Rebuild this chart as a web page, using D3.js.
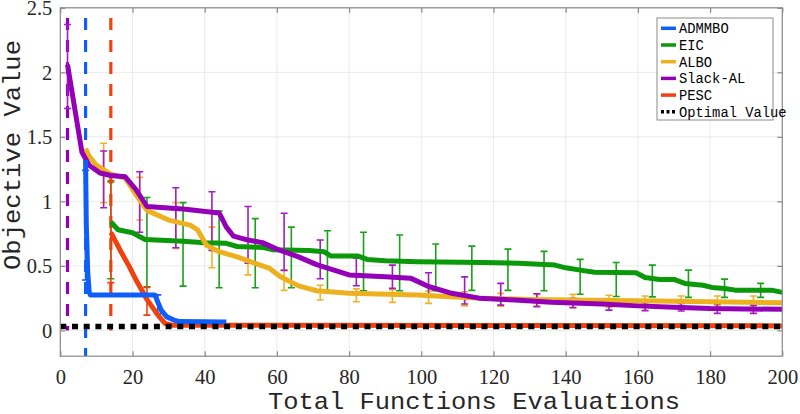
<!DOCTYPE html>
<html><head><meta charset="utf-8">
<script src="https://cdn.jsdelivr.net/npm/d3@7"></script>
<style>body{margin:0;background:#fff}svg{display:block}
.serif{font-family:"Liberation Serif","Times New Roman",Times,serif}
.mono{font-family:"Liberation Mono","Courier New",Courier,monospace}
</style>
</head><body><svg id="c" width="800" height="414"></svg>
<script>
const xTicks=[0,20,40,60,80,100,120,140,160,180,200];
const yTicks=[0,0.5,1,1.5,2,2.5];
const legendNames=["ADMMBO","EIC","ALBO","Slack-AL","PESC","Optimal Value"];
const colors={ADMMBO:"#0f5ef7",EIC:"#0b990b",ALBO:"#edb120",Slack:"#9300b8",PESC:"#f0410e"};

const admmX=[7,7.2,7.4,7.6,8,8.3,26.2,27,28,29.5,31.5,33,46];
const admmY=[1.32,0.82,0.64,0.45,0.3,0.275,0.275,0.22,0.155,0.105,0.08,0.068,0.065];
const eicX=[14,16,20,23.5,34,40,46,49,56,59,69,73,75,82.5,85,90,99,117,127,134,137,140,144,148,159.5,162,166,170,173,178,180.5,184,187,197,200];
const eicY=[0.84,0.78,0.757,0.705,0.69,0.68,0.675,0.65,0.643,0.625,0.62,0.61,0.576,0.576,0.55,0.54,0.532,0.527,0.52,0.51,0.506,0.485,0.467,0.45,0.447,0.41,0.395,0.395,0.364,0.35,0.333,0.325,0.312,0.312,0.295];
const alboX=[7,8,10,14,18,21,24,30,36,38,40.5,44,49,54,58,61,66,71,80,99,108,117,130,160,200];
const alboY=[1.41,1.35,1.28,1.21,1.18,1.05,0.93,0.855,0.816,0.78,0.66,0.61,0.57,0.52,0.48,0.415,0.345,0.307,0.287,0.274,0.26,0.25,0.24,0.23,0.214];
const slackX=[2,6,8,11,14,18,21,24,34,44,46,48,52,56,60,66,71,80,90,97,102,108,112,116,126,136,150,160,170,180,200];
const slackY=[2.06,1.38,1.28,1.22,1.2,1.19,1.09,0.96,0.94,0.91,0.8,0.73,0.7,0.68,0.63,0.57,0.51,0.43,0.415,0.405,0.34,0.29,0.27,0.25,0.235,0.218,0.204,0.19,0.18,0.17,0.163];
const pescX=[14,17,19,21,24,27,29,31,200];
const pescY=[0.76,0.6,0.5,0.39,0.24,0.12,0.055,0.04,0.035];
const optimalValue=0.03;

// error bars: x, low, high
const admmBarX=[7,17,27,37];
const admmBarLo=[0.39,0.27,0.13,0.06];
const admmBarHi=[1.24,0.28,0.275,0.07];
const eicBarX=[14,24,34,44,54,64,74,84,94,104,114,124,134,144,154,164,174,184,194];
const eicBarLo=[0.4,0.338,0.343,0.33,0.33,0.33,0.307,0.307,0.307,0.307,0.31,0.31,0.307,0.28,0.263,0.26,0.256,0.256,0.256];
const eicBarHi=[1.15,1.03,0.99,0.925,0.866,0.8,0.772,0.76,0.739,0.669,0.653,0.63,0.612,0.55,0.526,0.506,0.467,0.397,0.364];
const alboBarX=[12,22,32,42,52,62,72,82,92,102,112,122,132,142,152,162,172,182,192];
const alboBarLo=[0.99,0.855,0.636,0.485,0.43,0.31,0.235,0.222,0.217,0.209,0.19,0.188,0.19,0.178,0.18,0.157,0.19,0.19,0.19];
const alboBarHi=[1.45,1.186,0.99,0.8,0.524,0.467,0.35,0.322,0.315,0.305,0.3,0.287,0.279,0.279,0.272,0.266,0.266,0.266,0.266];
const slackBarX=[2,12,22,32,42,52,62,72,82,92,102,112,122,132,142,152,162,172,182,192];
const slackBarLo=[1.72,0.95,0.76,0.64,0.62,0.52,0.465,0.4,0.346,0.326,0.26,0.204,0.196,0.183,0.175,0.157,0.152,0.15,0.132,0.132];
const slackBarHi=[2.37,1.39,1.23,1.105,1.075,0.96,0.908,0.7,0.56,0.506,0.447,0.415,0.364,0.284,0.248,0.23,0.214,0.209,0.204,0.196];
const pescBarX=[14,24];
const pescBarLo=[0.37,0.118];
const pescBarHi=[1.16,0.333];

// vertical dashed markers: x, top, bottom
const startX=[2,7,14];
const startTop=[2.42,2.42,2.42];
const startBottom=[0,-0.2,0];
const startColor=[colors.Slack,colors.ADMMBO,colors.PESC];

const svg=d3.select("#c");
const L=60.3,R=782.3,T=7.8,B=356.2;
const x=d3.scaleLinear().domain([0,200]).range([L,R]);
const y=d3.scaleLinear().domain([-0.2,2.5]).range([B,T]);

svg.append("defs").append("clipPath").attr("id","clip").append("rect")
 .attr("x",L).attr("y",T).attr("width",R-L).attr("height",B-T);

// grid
const g=svg.append("g");
g.selectAll(".gx").data(xTicks).enter().append("line")
 .attr("x1",d=>x(d)).attr("x2",d=>x(d)).attr("y1",T).attr("y2",B)
 .attr("stroke","#ebebeb").attr("stroke-width",1);
g.selectAll(".gy").data(yTicks).enter().append("line")
 .attr("y1",d=>y(d)).attr("y2",d=>y(d)).attr("x1",L).attr("x2",R)
 .attr("stroke","#ebebeb").attr("stroke-width",1);

const plot=svg.append("g").attr("clip-path","url(#clip)");

startX.forEach((sx,i)=>{
 plot.append("line").attr("x1",x(sx)).attr("x2",x(sx))
  .attr("y1",y(startTop[i])).attr("y2",y(startBottom[i]))
  .attr("stroke",startColor[i]).attr("stroke-width",3.2)
  .attr("stroke-dasharray","12,10");
});

function bars(bx,lo,hi,col){
 bx.forEach((v,i)=>{
  const gg=plot.append("g").attr("stroke",col).attr("stroke-width",1.6).attr("fill","none");
  gg.append("line").attr("x1",x(v)).attr("x2",x(v)).attr("y1",y(lo[i])).attr("y2",y(hi[i]));
  gg.append("line").attr("x1",x(v)-3.5).attr("x2",x(v)+3.5).attr("y1",y(lo[i])).attr("y2",y(lo[i]));
  gg.append("line").attr("x1",x(v)-3.5).attr("x2",x(v)+3.5).attr("y1",y(hi[i])).attr("y2",y(hi[i]));
 });
}
bars(eicBarX,eicBarLo,eicBarHi,"#1aa01a");
bars(alboBarX,alboBarLo,alboBarHi,"#eeb32a");
bars(slackBarX,slackBarLo,slackBarHi,"#a21cc4");
bars(pescBarX,pescBarLo,pescBarHi,colors.PESC);
bars(admmBarX,admmBarLo,admmBarHi,colors.ADMMBO);

const line=d3.line().x(d=>x(d[0])).y(d=>y(d[1]));
function series(xs,ys,col){
 plot.append("path").datum(xs.map((v,i)=>[v,ys[i]]))
  .attr("d",line).attr("fill","none").attr("stroke",col)
  .attr("stroke-width",5).attr("stroke-linejoin","round");
}
series(pescX,pescY,colors.PESC);
series(eicX,eicY,colors.EIC);
series(alboX,alboY,colors.ALBO);
series(slackX,slackY,colors.Slack);
series(admmX,admmY,colors.ADMMBO);

plot.append("line").attr("x1",x(0)).attr("x2",x(200)).attr("y1",y(optimalValue)).attr("y2",y(optimalValue))
 .attr("stroke","#000").attr("stroke-width",5.5).attr("stroke-dasharray","6,5.7");

// axes box
const axCol="#8a8a8a";
svg.append("rect").attr("x",L).attr("y",T).attr("width",R-L).attr("height",B-T)
 .attr("fill","none").attr("stroke",axCol).attr("stroke-width",1.2);
const xb=d3.axisBottom(x).tickValues(xTicks).tickSize(-5).tickFormat(d3.format("d"));
const xt=d3.axisTop(x).tickValues(xTicks).tickSize(-5).tickFormat("");
const yl=d3.axisLeft(y).tickValues(yTicks).tickSize(-5).tickFormat(d=>String(d));
const yr=d3.axisRight(y).tickValues(yTicks).tickSize(-5).tickFormat("");
function styleAx(sel){
 sel.attr("font-family",null).attr("font-size",null);
 sel.select(".domain").remove();
 sel.selectAll(".tick line").attr("stroke",axCol).attr("stroke-width",1.2);
 sel.selectAll("text").attr("class","serif").style("fill","#262626").style("font-size","20.5px");
}
svg.append("g").attr("transform",`translate(0,${B})`).call(xb).call(styleAx).selectAll("text").attr("dy","1.2em");
svg.append("g").attr("transform",`translate(0,${T})`).call(xt).call(styleAx);
svg.append("g").attr("transform",`translate(${L},0)`).call(yl).call(styleAx).selectAll("text").attr("x",-8).attr("dy","0.34em");
svg.append("g").attr("transform",`translate(${R},0)`).call(yr).call(styleAx);

// axis labels
svg.append("text").attr("class","mono").attr("x",268).attr("y",409).attr("text-anchor","start")
 .attr("textLength",412).attr("lengthAdjust","spacingAndGlyphs")
 .style("font-size","24px").style("fill","#262626")
 .text("Total Functions Evaluations");
svg.append("text").attr("class","mono").attr("transform",`translate(20,155) rotate(-90)`).attr("text-anchor","middle")
 .attr("textLength",230).attr("lengthAdjust","spacingAndGlyphs")
 .style("font-size","24px").style("fill","#262626")
 .text("Objective Value");

// legend
const lg=svg.append("g");
const lx=657,ly=18,lw=116,lh=102;
lg.append("rect").attr("x",lx).attr("y",ly).attr("width",lw).attr("height",lh).attr("fill","#fff").attr("stroke","#8a8a8a").attr("stroke-width",1);
const legCols=[colors.ADMMBO,colors.EIC,colors.ALBO,colors.Slack,colors.PESC,"#000"];
legendNames.forEach((n,i)=>{
 const yy=ly+10.3+i*16.7;
 const ln=lg.append("line").attr("x1",lx+4).attr("x2",lx+19).attr("y1",yy).attr("y2",yy)
  .attr("stroke",legCols[i]).attr("stroke-width",3.5);
 if(i===5) ln.attr("stroke-dasharray","3,2.5");
 lg.append("text").attr("class","mono").attr("x",lx+22).attr("y",yy).attr("dy","0.35em")
  .style("font-size","13.8px").style("fill","#000").text(n);
});
</script></body></html>
